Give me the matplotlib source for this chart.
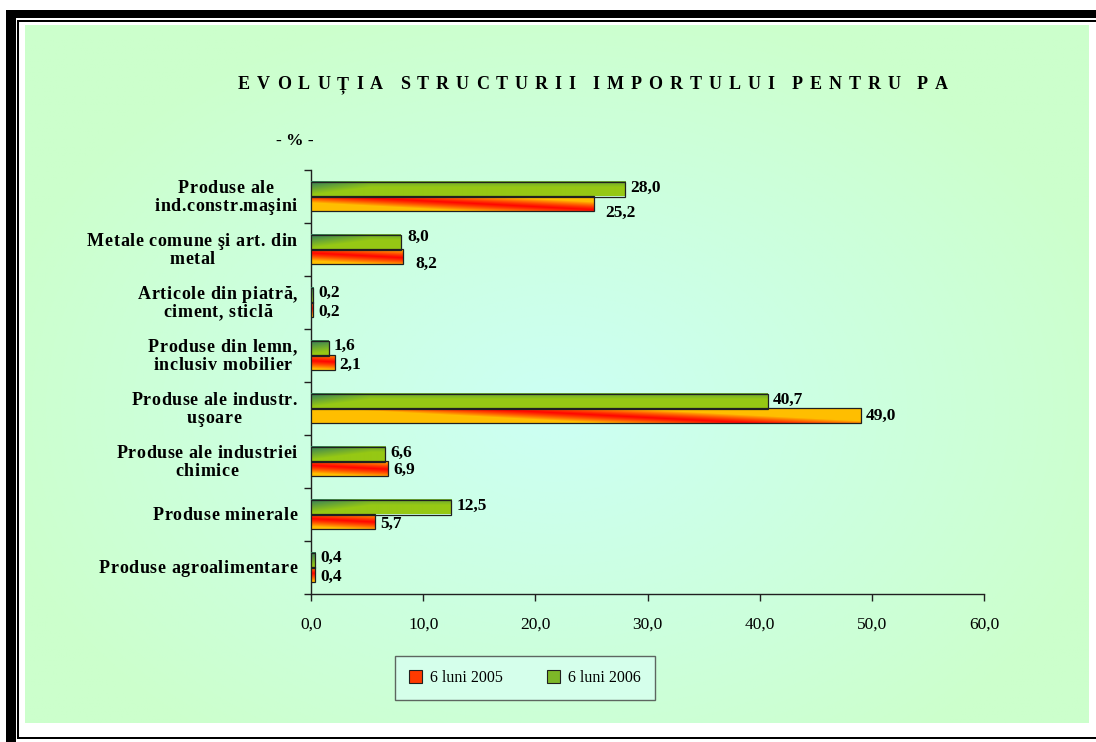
import numpy as np
import matplotlib
matplotlib.use("Agg")
import matplotlib.pyplot as plt
from matplotlib.patches import Rectangle, Patch
from matplotlib.colors import to_rgb

# ---------------- data ----------------
categories = [
    "Produse ale\nind.constr.maşini",
    "Metale comune şi art. din\nmetal",
    "Articole din piatră,\nciment, sticlă",
    "Produse din lemn,\ninclusiv mobilier",
    "Produse ale industr.\nuşoare",
    "Produse ale industriei\nchimice",
    "Produse minerale",
    "Produse agroalimentare",
]
series_names = ["6 luni 2005", "6 luni 2006"]
values_2005 = [25.2, 8.2, 0.2, 2.1, 49.0, 6.9, 5.7, 0.4]
values_2006 = [28.0, 8.0, 0.2, 1.6, 40.7, 6.6, 12.5, 0.4]
x_ticks = [0, 10, 20, 30, 40, 50, 60]
title = "EVOLUȚIA STRUCTURII IMPORTULUI PENTRU PA"
unit_label = "- % -"

# label nudges (pixels) – layout only
off_2006 = [(5, 1), (7, 5), (5, 2), (5, 2), (5, 1), (5, 1), (5, 1), (5, 2)]
off_2005 = [(12, -9), (12, -7), (5, -2), (5, -2), (5, 0), (5, -1), (5, -2), (5, -2)]

W, H = 1096, 742
DPI = 100
fig = plt.figure(figsize=(W / DPI, H / DPI), dpi=DPI)
fig.patch.set_facecolor("white")
renderer = fig.canvas.get_renderer()

SERIF = ["Liberation Serif", "DejaVu Serif"]


def fr(x0, y0, x1, y1):
    """pixel box (top-left origin) -> figure fraction rect"""
    return (x0 / W, 1 - y1 / H, (x1 - x0) / W, (y1 - y0) / H)


def prect(x0, y0, x1, y1, color="black", z=0):
    l, b, w, h = fr(x0, y0, x1, y1)
    fig.patches.append(Rectangle((l, b), w, h, transform=fig.transFigure,
                                 facecolor=color, edgecolor="none", zorder=z))


_wcache = {}


def char_w(ch, kw):
    key = (ch, kw["fontsize"], kw.get("fontweight"))
    if key not in _wcache:
        if ch == " ":
            t1 = fig.text(0, 0, "a a", **kw)
            t2 = fig.text(0, 0, "aa", **kw)
            w = t1.get_window_extent(renderer).width - t2.get_window_extent(renderer).width
            t1.remove(); t2.remove()
        else:
            t = fig.text(0, 0, ch, **kw)
            w = t.get_window_extent(renderer).width
            t.remove()
        _wcache[key] = w
    return _wcache[key]


def tracked_width(s, track, kw):
    return sum(char_w(c, kw) for c in s) + track * (len(s) - 1)


def draw_tracked(s, x_left, y_base, track, kw):
    """x_left, y_base in display pixels (origin bottom-left)"""
    x = x_left
    for c in s:
        if c != " ":
            fig.text(x / W, y_base / H, c, ha="left", va="baseline", **kw)
        x += char_w(c, kw) + track


# ---------- frame ----------
prect(6, 10, 16, 742)        # thick left
prect(6, 10, 1096, 18)       # thick top
prect(17, 20, 19, 739)       # thin left
prect(17, 20, 1096, 22)      # thin top
prect(17, 737, 1096, 739)    # thin bottom

# ---------- background gradient ----------
bg = fig.add_axes(fr(25, 25, 1089, 723), zorder=-5)
gx, gy = np.meshgrid(np.linspace(0, 1, 400), np.linspace(0, 1, 260))
d = np.sqrt(((gx - 0.5) / 0.55) ** 2 + ((gy - 0.55) / 0.6) ** 2)
t = np.clip(1 - d, 0, 1)
c_edge = np.array(to_rgb("#CCFFCC"))
c_mid = np.array(to_rgb("#CCFFF4"))
img = c_edge[None, None, :] * (1 - t[..., None]) + c_mid[None, None, :] * t[..., None]
bg.imshow(img, aspect="auto", extent=[0, 1, 0, 1])
bg.set_axis_off()

# ---------- main axes ----------
ax = fig.add_axes(fr(311, 170, 984, 594))
ax.set_facecolor("none")

n = len(categories)
ypos = np.arange(n)[::-1].astype(float)
h = 0.28
bars05 = ax.barh(ypos - h / 2, values_2005, height=h, color="none",
                 edgecolor="#202020", linewidth=0.9, zorder=4)
bars06 = ax.barh(ypos + h / 2, values_2006, height=h, color="none",
                 edgecolor="#202020", linewidth=0.9, zorder=4)

XMAX = 60
px_per_unit = (984 - 311) / XMAX
py_per_unit = (594 - 170) / n


def grad_orange(wpx, hpx):
    u, v = np.meshgrid(np.arange(wpx) + 0.5, np.arange(hpx) + 0.5)
    s = v / hpx - 0.42 - (u - wpx / 2) * 0.0035
    k = np.clip(np.abs(s) * 1.9, 0, 1) ** 1.2
    red = np.array(to_rgb("#FF0800"))
    yel = np.array(to_rgb("#FFBE00"))
    return red * (1 - k[..., None]) + yel * k[..., None]


def grad_green(wpx, hpx):
    u, v = np.meshgrid(np.arange(wpx) + 0.5, np.arange(hpx) + 0.5)
    tt = np.clip(1.0 - v / hpx * 1.1, 0, 1)  # top -> 1
    tt = np.clip(tt - np.clip(u / 60.0, 0, 1) * 0.55, 0, 1)
    dark = np.array(to_rgb("#2F7A5E"))
    lite = np.array(to_rgb("#96C814"))
    return lite * (1 - tt[..., None]) + dark * tt[..., None]


for bars, gfun in ((bars05, grad_orange), (bars06, grad_green)):
    for b in bars:
        x0, y0, w, hh = b.get_x(), b.get_y(), b.get_width(), b.get_height()
        wpx = max(int(round(w * px_per_unit)), 2)
        hpx = max(int(round(hh * py_per_unit)), 2)
        g = gfun(wpx, hpx)
        ax.imshow(g, extent=[x0, x0 + w, y0, y0 + hh], origin="upper",
                  aspect="auto", zorder=3, interpolation="bilinear")


def fmt(v):
    return f"{v:.1f}".replace(".", ",")


for bars, vals, offs in ((bars06, values_2006, off_2006),
                         (bars05, values_2005, off_2005)):
    for b, v, (dx, dy) in zip(bars, vals, offs):
        ax.annotate(fmt(v), (b.get_width(), b.get_y() + b.get_height() / 2),
                    xytext=(dx * 0.72, dy * 0.72), textcoords="offset points",
                    ha="left", va="center", fontsize=12.5, fontweight="bold",
                    family=SERIF, zorder=6)

ax.set_xlim(0, XMAX)
ax.set_ylim(-0.5, n - 0.5)
ax.set_xticks(x_ticks)
ax.set_xticklabels([fmt(v) for v in x_ticks], family=SERIF, fontsize=12.5)
ax.set_yticks(np.arange(-0.5, n, 1.0))
ax.set_yticklabels([])
ax.tick_params(axis="y", which="major", length=5, width=1, color="#202020",
               direction="out")
ax.tick_params(axis="x", which="major", length=5, width=1, color="#202020",
               direction="out", pad=11)
for s in ("top", "right"):
    ax.spines[s].set_visible(False)
for s in ("left", "bottom"):
    ax.spines[s].set_color("#202020")
    ax.spines[s].set_linewidth(1.0)

# ---------- category labels (tracked, centred lines, right-aligned block) ----------
ckw = dict(fontsize=13, fontweight="bold", family=SERIF)
c_track = 0.6
c_right = 297.0
line_gap = 18.0
cap_half = 5.6
for cat, yv in zip(categories, ypos):
    _, yc = ax.transData.transform((0, yv))
    lines = cat.split("\n")
    lw = [tracked_width(l, c_track, ckw) for l in lines]
    bw = max(lw)
    xc = c_right - bw / 2
    nl = len(lines)
    for j, (l, w) in enumerate(zip(lines, lw)):
        y_line = yc - (j - (nl - 1) / 2) * line_gap
        draw_tracked(l, xc - w / 2, y_line - cap_half, c_track, ckw)

# ---------- title with letter tracking ----------
tkw = dict(fontsize=13, fontweight="bold", family=SERIF)
t_left, t_right, t_yc = 238, 948, 83
letters = [c for c in title]
n_letters = sum(1 for c in letters if c != " ")
n_spaces = title.count(" ")
letters_w = sum(char_w(c, tkw) for c in letters if c != " ")
word_extra = 1.4
track = (t_right - t_left - letters_w) / ((n_letters - 1) + n_spaces * word_extra)
x = t_left
yb = H - t_yc - 5.8
for c in letters:
    if c == " ":
        x += track * word_extra
        continue
    fig.text(x / W, yb / H, c, ha="left", va="baseline", **tkw)
    x += char_w(c, tkw) + track

fig.text(295 / W, 1 - 141 / H, unit_label, ha="center", va="center",
         fontsize=12.5, fontweight="bold", family=SERIF)

# ---------- legend ----------
handles = [Patch(facecolor="#FF3A00", edgecolor="#202020", linewidth=0.8),
           Patch(facecolor="#7DB828", edgecolor="#202020", linewidth=0.8)]
leg = fig.legend(handles, series_names, loc="center",
                 bbox_to_anchor=(525 / W, 1 - 678 / H), ncol=2,
                 prop={"family": SERIF, "size": 11.5}, frameon=True,
                 fancybox=False, handlelength=0.8, handleheight=0.8,
                 handletextpad=0.5, columnspacing=2.8, borderpad=0.9)
leg.get_frame().set_edgecolor("#404040")
leg.get_frame().set_facecolor("#D8FFF0")
leg.get_frame().set_linewidth(1.0)

fig.savefig("out.png", dpi=DPI)
